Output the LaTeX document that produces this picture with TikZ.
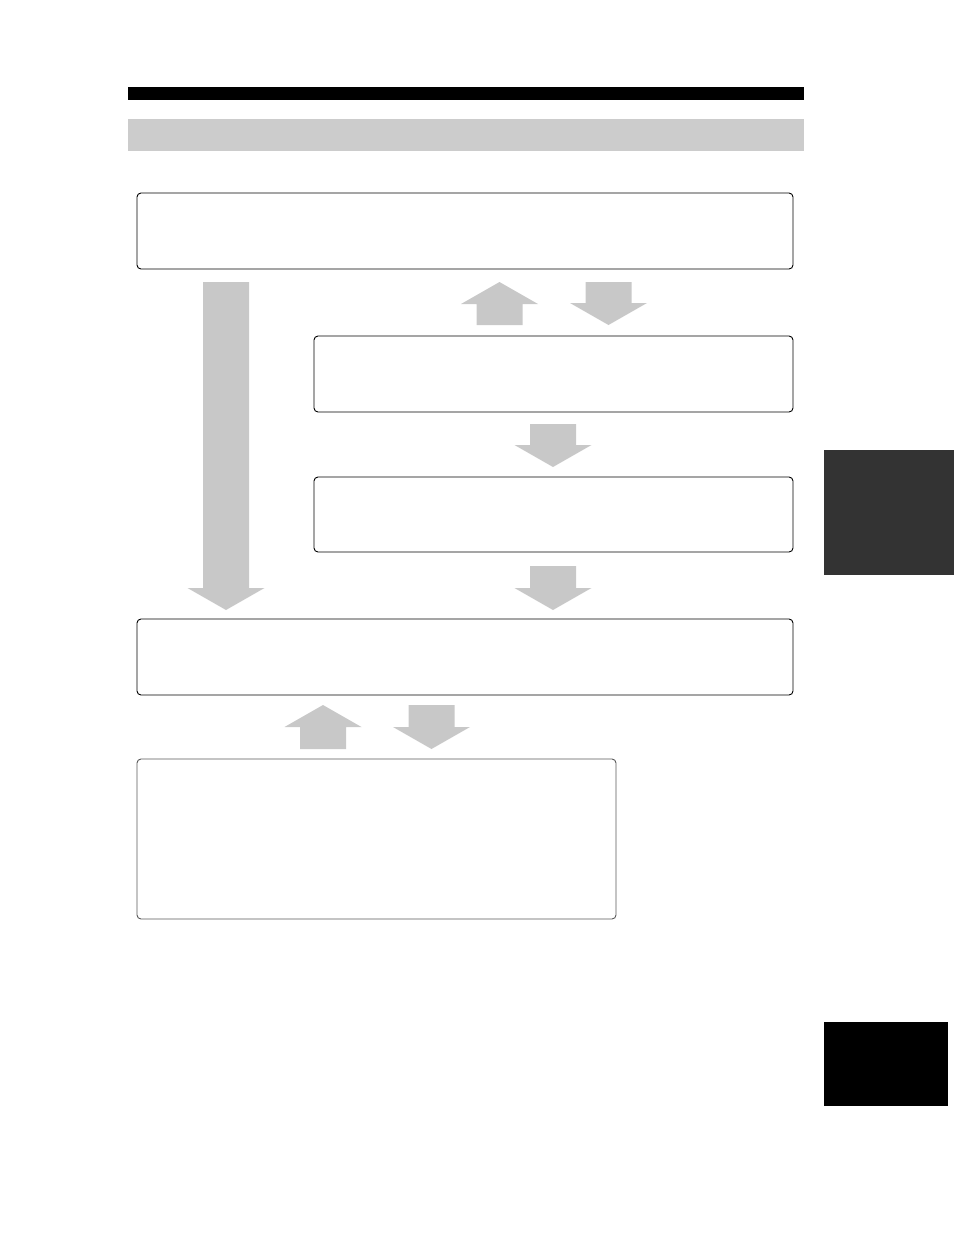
\documentclass[tikz,border=0pt]{standalone}
\usetikzlibrary{calc}
\definecolor{arrowgray}{HTML}{C8C8C8}
\definecolor{bandgray}{HTML}{CCCCCC}
\definecolor{tabdark}{HTML}{333333}
\tikzset{
  flowbox/.style={draw=black, line width=0.9pt, rounded corners=4pt, fill=white,
    inner sep=0pt, outer sep=0pt, anchor=north west},
  softbox/.style={flowbox, draw=black!65},
  blockfill/.style={fill, inner sep=0pt, outer sep=0pt, anchor=north west},
}
\newcommand\fatdown[2]{%
  \fill[arrowgray] let \p1=(#1), \p2=(#2) in
    (\x1-23pt,\y1) -- (\x1+23pt,\y1) -- (\x1+23pt,\y2+22pt) -- (\x1+38.5pt,\y2+22pt)
    -- (\x1,\y2) -- (\x1-38.5pt,\y2+22pt) -- (\x1-23pt,\y2+22pt) -- cycle;}
\newcommand\fatup[2]{%
  \fill[arrowgray] let \p1=(#1), \p2=(#2) in
    (\x1-23pt,\y1) -- (\x1+23pt,\y1) -- (\x1+23pt,\y2-22pt) -- (\x1+38.5pt,\y2-22pt)
    -- (\x1,\y2) -- (\x1-38.5pt,\y2-22pt) -- (\x1-23pt,\y2-22pt) -- cycle;}
\begin{document}
\begin{tikzpicture}[x=1pt, y=-1pt]
\useasboundingbox (0,0) rectangle (954,1235);
% header bars
\node[blockfill, fill=black, minimum width=676pt, minimum height=13pt] (topbar) at (128,87) {};
\node[blockfill, fill=bandgray, minimum width=676pt, minimum height=32pt] (band) at (128,119) {};
% side tabs
\node[blockfill, fill=tabdark, minimum width=130pt, minimum height=125pt] (tab1) at (824,450) {};
\node[blockfill, fill=black, minimum width=124pt, minimum height=84pt] (tab2) at (824,1022) {};
% boxes
\node[flowbox, minimum width=656pt, minimum height=76pt] (b1) at (137,193) {};
\node[flowbox, minimum width=479pt, minimum height=76pt] (b2) at (314,336) {};
\node[flowbox, minimum width=479pt, minimum height=75pt] (b3) at (314,477) {};
\node[flowbox, minimum width=656pt, minimum height=76pt] (b4) at (137,619) {};
\node[softbox, minimum width=479pt, minimum height=160pt] (b5) at (137,759) {};
% arrow end points
\coordinate (l1) at (226,282);  \coordinate (l2) at (226,610);
\coordinate (u1) at (499.5,325); \coordinate (u2) at (499.5,282);
\coordinate (d1) at (608.5,282); \coordinate (d2) at (608.5,325);
\coordinate (e1) at (553,424);  \coordinate (e2) at (553,467);
\coordinate (f1) at (553,566);  \coordinate (f2) at (553,610);
\coordinate (g1) at (323,749);  \coordinate (g2) at (323,705);
\coordinate (h1) at (431.5,705); \coordinate (h2) at (431.5,749);
% block arrows
\fatdown{l1}{l2}
\fatup{u1}{u2}
\fatdown{d1}{d2}
\fatdown{e1}{e2}
\fatdown{f1}{f2}
\fatup{g1}{g2}
\fatdown{h1}{h2}
\end{tikzpicture}
\end{document}
